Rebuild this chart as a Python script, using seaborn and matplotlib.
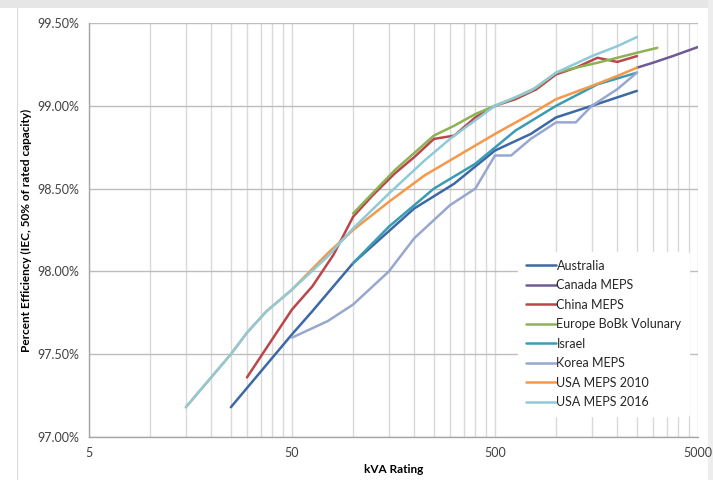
import numpy as np
import pandas as pd
import matplotlib
matplotlib.use('Agg')
import matplotlib.pyplot as plt
import matplotlib.ticker as mticker
from matplotlib.patches import Rectangle
import seaborn as sns

# Values (kVA rating vs. % efficiency)
australia_kva = [25, 50, 63, 100, 200, 315, 500, 750, 1000, 1500, 2500]
australia_eff = [97.18, 97.62, 97.76, 98.05, 98.38, 98.53, 98.73, 98.83, 98.93, 99.00, 99.09]

canada_kva = [2500, 3000, 3750, 5000]
canada_eff = [99.23, 99.26, 99.30, 99.355]

china_kva = [30, 50, 63, 80, 100, 125, 160, 200, 250, 315, 400, 500, 630, 800, 1000, 1250, 1600, 2000, 2500]
china_eff = [97.36, 97.77, 97.91, 98.10, 98.33, 98.46, 98.59, 98.69, 98.80, 98.82, 98.93, 99.00,
             99.04, 99.10, 99.19, 99.23, 99.29, 99.265, 99.30]

europe_kva = [100, 160, 250, 315, 400, 500, 630, 800, 1000, 1250, 1600, 2000, 2500, 3150]
europe_eff = [98.35, 98.61, 98.82, 98.88, 98.95, 99.00, 99.05, 99.11, 99.20, 99.23, 99.26, 99.29, 99.32, 99.35]

israel_kva = [100, 150, 250, 400, 630, 1000, 1600, 2500]
israel_eff = [98.05, 98.27, 98.50, 98.65, 98.85, 99.00, 99.13, 99.20]

korea_kva = [50, 75, 100, 150, 200, 300, 400, 500, 600, 750, 1000, 1250, 1500, 2000, 2500]
korea_eff = [97.60, 97.70, 97.80, 98.00, 98.20, 98.40, 98.50, 98.70, 98.70, 98.80, 98.90, 98.90, 99.00, 99.10, 99.20]

usa_kva = [15, 25, 30, 37.5, 50, 75, 100, 150, 225, 300, 500, 750, 1000, 1500, 2000, 2500]
usa2010_eff = [97.18, 97.50, 97.63, 97.76, 97.89, 98.11, 98.25, 98.42, 98.58, 98.67, 98.83, 98.95,
               99.04, 99.12, 99.18, 99.23]
usa2016_eff = [97.18, 97.50, 97.63, 97.76, 97.89, 98.09, 98.26, 98.47, 98.67, 98.80, 99.00, 99.09,
               99.20, 99.30, 99.36, 99.415]

series_names = ['Australia', 'Canada MEPS', 'China MEPS', 'Europe BoBk Volunary',
                'Israel', 'Korea MEPS', 'USA MEPS 2010', 'USA MEPS 2016']
series_colors = ['#3D68A6', '#6E5A94', '#B9474A', '#8DB254',
                 '#3A9CB2', '#97A7D0', '#F5984A', '#8ECAD8']

# build one long table for seaborn
parts = [
    (australia_kva, australia_eff),
    (canada_kva, canada_eff),
    (china_kva, china_eff),
    (europe_kva, europe_eff),
    (israel_kva, israel_eff),
    (korea_kva, korea_eff),
    (usa_kva, usa2010_eff),
    (usa_kva, usa2016_eff),
]
frames = []
for name, (kva, eff) in zip(series_names, parts):
    frames.append(pd.DataFrame({'kVA': kva, 'eff': eff, 'std': name}))
df = pd.concat(frames, ignore_index=True)

sns.set_style('white')
plt.rcParams['font.family'] = ['Lato', 'DejaVu Sans']

fig = plt.figure(figsize=(7.13, 4.80), dpi=100)
fig.patch.set_facecolor('white')
ax = fig.add_axes([89 / 713, 1 - 437 / 480, 609 / 713, 414 / 480])

sns.lineplot(data=df, x='kVA', y='eff', hue='std', hue_order=series_names,
             palette=dict(zip(series_names, series_colors)), estimator=None,
             sort=False, linewidth=1.8, ax=ax)
for ln in ax.get_lines():
    ln.set_solid_joinstyle('round')
    ln.set_solid_capstyle('round')

ax.set_xscale('log')
ax.set_xlim(5, 5000)
ax.set_ylim(97.0, 99.5)

ax.xaxis.set_major_locator(mticker.FixedLocator([5, 50, 500, 5000]))
ax.xaxis.set_major_formatter(mticker.FixedFormatter(['5', '50', '500', '5000']))
minor = [m * 10 ** k for k in range(0, 3) for m in (10, 15, 20, 25, 30, 35, 40, 45)]
ax.xaxis.set_minor_locator(mticker.FixedLocator(minor))
ax.xaxis.set_minor_formatter(mticker.NullFormatter())
ax.yaxis.set_major_locator(mticker.MultipleLocator(0.5))
ax.yaxis.set_major_formatter(mticker.FuncFormatter(lambda v, p: f'{v:.2f}%'))

ax.grid(True, which='major', axis='y', color='#BDBDBD', linewidth=1.0)
ax.grid(True, which='both', axis='x', color='#D9D9D9', linewidth=1.0)
ax.set_axisbelow(True)

for side in ['top', 'right']:
    ax.spines[side].set_visible(False)
for side in ['left', 'bottom']:
    ax.spines[side].set_color('#A6A6A6')
    ax.spines[side].set_linewidth(1.0)

ax.tick_params(axis='both', which='major', length=4, color='#A6A6A6',
               labelsize=9, labelcolor='#404040', pad=3)
ax.tick_params(axis='x', which='minor', length=0)

ax.set_xlabel('kVA Rating', fontsize=8.5, fontweight='bold', color='black', labelpad=4)
ax.set_ylabel('Percent Efficiency (IEC, 50% of rated capacity)', fontsize=8.5,
              fontweight='bold', color='black', labelpad=4)

leg = ax.legend(loc='upper left', bbox_to_anchor=(0.705, 0.446), frameon=True,
                fontsize=9, handlelength=2.4, handletextpad=0.05, labelspacing=0.6,
                borderpad=0.6, borderaxespad=0)
leg.get_frame().set_facecolor('white')
leg.get_frame().set_edgecolor('white')
leg.get_frame().set_alpha(1.0)
for h in leg.get_lines():
    h.set_linewidth(1.8)
for t in leg.get_texts():
    t.set_color('#262626')

# faint frame of the original chart object
fig.patches.append(Rectangle((0, 1 - 8 / 480), 1, 8 / 480, transform=fig.transFigure,
                             facecolor='#E6E6E6', edgecolor='none', zorder=-5))
fig.patches.append(Rectangle((708 / 713, 0), 5 / 713, 1, transform=fig.transFigure,
                             facecolor='#EDEDED', edgecolor='none', zorder=-5))
fig.patches.append(Rectangle((17 / 713, 0), 1 / 713, 1 - 8 / 480, transform=fig.transFigure,
                             facecolor='#D8D8D8', edgecolor='none', zorder=-5))

fig.savefig('out.png', dpi=100, facecolor=fig.get_facecolor())
